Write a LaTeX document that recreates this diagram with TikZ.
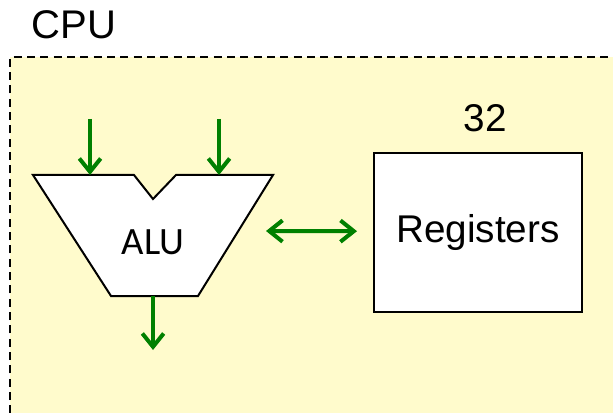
\documentclass[tikz,border=0pt]{standalone}
\usepackage{fontspec}
\setmainfont{Liberation Sans}
\newfontfamily\alufont{Carlito}
\usetikzlibrary{arrows.meta}
\definecolor{cpuyellow}{RGB}{255,251,204}
\definecolor{busgreen}{RGB}{0,128,0}
\tikzset{
  link/.style={draw=busgreen, line width=3pt, arrows={-Straight Barb[length=10pt,width=16pt]}},
  regbox/.style={draw, line width=1.5pt, fill=white, minimum width=156pt, minimum height=119pt, inner sep=0pt},
  label/.style={font=\fontsize{29}{32}\selectfont, inner sep=0pt}
}
\begin{document}
\begin{tikzpicture}[x=0.75pt, y=-0.75pt]
  \useasboundingbox (0,0) rectangle (613,413);
  % CPU frame
  \fill[cpuyellow] (10,57) rectangle (640,440);
  \draw[line width=1.3pt, dash pattern=on 6pt off 4pt] (10,440) -- (10,57) -- (640,57);
  \node[label, font=\fontsize{30}{32}\selectfont] (cpu) at (74,25) {CPU};
  % ALU
  \draw[line width=1.5pt, fill=white] (33,175) -- (134,175) -- (153,199) -- (176,175)
    -- (273,175) -- (198,296) -- (111,296) -- cycle;
  \node[label, font=\alufont\fontsize{29}{32}\selectfont] (alu) at (153,242) {ALU};
  \coordinate (ina) at (90,119);
  \coordinate (inb) at (219,119);
  \coordinate (porta) at (90,175);
  \coordinate (portb) at (219,175);
  \coordinate (outport) at (153,296);
  \coordinate (out) at (153,350);
  \coordinate (aluside) at (266,231);
  % registers
  \node[regbox, label] (regs) at (478,232.5) {Registers};
  \node[label] (count) at (485,118) {32};
  % buses
  \draw[link] (ina) -- (porta);
  \draw[link] (inb) -- (portb);
  \draw[link] (outport) -- (out);
  \draw[link, arrows={Straight Barb[length=10pt,width=16pt]-Straight Barb[length=10pt,width=16pt]}] (aluside) -- ([xshift=-12pt, yshift=1pt]regs.west);
\end{tikzpicture}
\end{document}
